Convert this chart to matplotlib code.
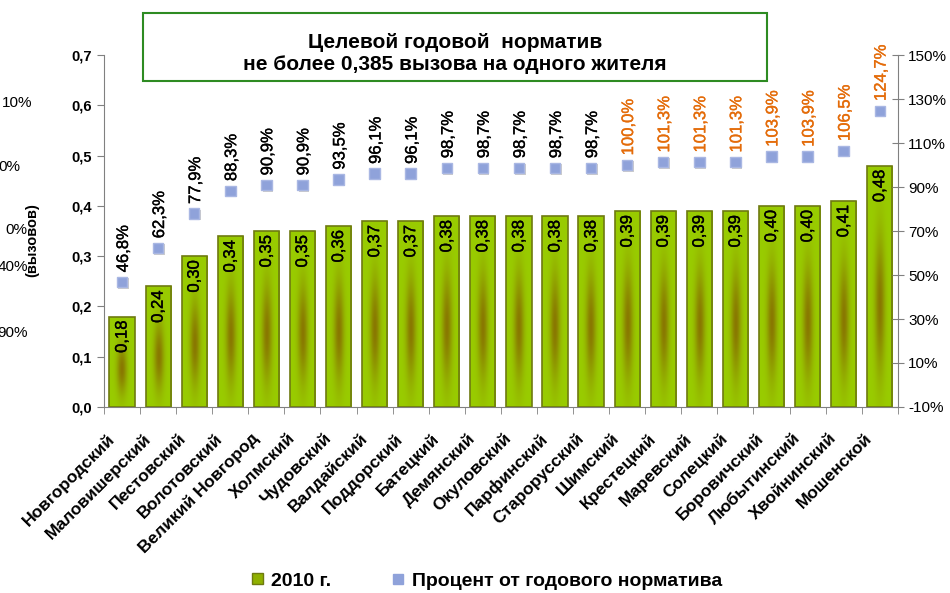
import numpy as np
import matplotlib
matplotlib.use("Agg")
import matplotlib.pyplot as plt
from matplotlib.patches import Rectangle
from matplotlib.transforms import ScaledTranslation
import matplotlib.patheffects as pe

plt.rcParams['font.family'] = ['Liberation Sans', 'DejaVu Sans']

districts = ["Новгородский", "Маловишерский", "Пестовский", "Волотовский",
             "Великий Новгород", "Холмский", "Чудовский", "Валдайский",
             "Поддорский", "Батецкий", "Демянский", "Окуловский", "Парфинский",
             "Старорусский", "Шимский", "Крестецкий", "Маревский", "Солецкий",
             "Боровичский", "Любытинский", "Хвойнинский", "Мошенской"]
calls_2010 = [0.18, 0.24, 0.30, 0.34, 0.35, 0.35, 0.36, 0.37, 0.37, 0.38, 0.38,
              0.38, 0.38, 0.38, 0.39, 0.39, 0.39, 0.39, 0.40, 0.40, 0.41, 0.48]
pct_of_norm = [46.8, 62.3, 77.9, 88.3, 90.9, 90.9, 93.5, 96.1, 96.1, 98.7, 98.7,
               98.7, 98.7, 98.7, 100.0, 101.3, 101.3, 101.3, 103.9, 103.9, 106.5, 124.7]
left_ticks = [0.0, 0.1, 0.2, 0.3, 0.4, 0.5, 0.6, 0.7]
right_ticks = [-10, 10, 30, 50, 70, 90, 110, 130, 150]

green = np.array([153, 204, 0]) / 255
dark = np.array([135, 110, 0]) / 255
orange = '#E46C0A'
blue = '#8FA2DA'

fig = plt.figure(figsize=(9.5, 5.93), dpi=100)
ax = fig.add_axes([0.1095, 0.3137, 0.8355, 0.5933])
ax2 = ax.twinx()
ax.set_zorder(ax2.get_zorder() - 1)
ax2.patch.set_visible(False)

# gradient for bars
gx = np.linspace(0, 1, 40)
gy = np.linspace(0, 1, 80)
X, Y = np.meshgrid(gx, gy)
t = 0.9 * np.exp(-((X - 0.5) / 0.2) ** 2) * np.exp(-((Y - 0.42) / 0.28) ** 2)
img = green[None, None, :] * (1 - t[..., None]) + dark[None, None, :] * t[..., None]

x = np.arange(len(districts))
bars = ax.bar(x, calls_2010, width=0.7, color='none', edgecolor='#6E7A10', linewidth=1.2, zorder=3)
for b, v in zip(bars, calls_2010):
    x0 = b.get_x()
    im = ax.imshow(img, extent=(x0, x0 + b.get_width(), 0, v), origin='lower',
                   aspect='auto', zorder=2, interpolation='bilinear')
    im.set_clip_path(b)
    ax.annotate(f"{v:.2f}".replace('.', ','), (b.get_x() + b.get_width() / 2, v),
                xytext=(0, -3), textcoords='offset points', rotation=90,
                ha='center', va='top', fontsize=12, color='black', zorder=4,
                path_effects=[pe.withStroke(linewidth=0.25, foreground='black')])

ax.set_xlim(-0.5, len(districts) - 0.5)
ax.set_ylim(0, 0.7)
ax.set_yticks(left_ticks)
ax.set_yticklabels([f"{v:.1f}".replace('.', ',') for v in left_ticks],
                   fontsize=10.5, fontweight='bold')
ax.set_xticks(x)
ax.set_xticklabels(districts, rotation=45, ha='right', va='top', rotation_mode='anchor',
                   fontsize=12.5, fontweight='bold')
ax.tick_params(axis='x', which='major', length=0, pad=17)
for lbl in ax.get_xticklabels():
    lbl.set_transform(lbl.get_transform() + ScaledTranslation(-11 / 72, 0, fig.dpi_scale_trans))
ax.set_xticks(np.arange(-0.5, len(districts), 1), minor=True)
ax.tick_params(axis='x', which='minor', length=5, color='#808080')
ax.tick_params(axis='y', length=5, color='#808080')
for s in ['top', 'right']:
    ax.spines[s].set_visible(False)
ax.spines['left'].set_color('#808080')
ax.spines['bottom'].set_color('#808080')

ax2.plot(x, pct_of_norm, linestyle='none', marker='s', markersize=7.5,
         color=blue, markeredgecolor='#A9B7E3', zorder=5,
         path_effects=[pe.SimplePatchShadow(offset=(1, -1), shadow_rgbFace='#9A9A9A', alpha=0.5),
                       pe.Normal()])
for xi, p in zip(x, pct_of_norm):
    c = orange if p >= 100 else 'black'
    ax2.annotate(f"{p:.1f}%".replace('.', ','), (xi, p), xytext=(1, 7),
                 textcoords='offset points', rotation=90, ha='center', va='bottom',
                 fontsize=12, color=c,
                 path_effects=[pe.withStroke(linewidth=0.25, foreground=c)])
ax2.set_ylim(-10, 150)
ax2.set_yticks(right_ticks)
ax2.set_yticklabels([f"{v}%" for v in right_ticks], fontsize=11)
ax2.tick_params(axis='y', direction='inout', length=8, color='#808080')
for s in ['top', 'left', 'bottom']:
    ax2.spines[s].set_visible(False)
ax2.spines['right'].set_color('#808080')

# title box
fig.patches.append(Rectangle((143 / 950, 1 - 81 / 593), 624 / 950, 68 / 593,
                             transform=fig.transFigure, facecolor='white',
                             edgecolor='#2E8B22', linewidth=1.5, zorder=10))
fig.text(455 / 950, 1 - 54 / 593, "Целевой годовой  норматив\nне более 0,385 вызова на одного жителя",
         ha='center', va='center', fontsize=15, fontweight='bold', linespacing=1.2,
         zorder=11)

# leftover texts on the left edge
for yy, s, xr in [(103, "10%", 32), (167, "0%", 20), (230, "0%", 27), (267, "40%", 28), (333, "90%", 28)]:
    fig.text(xr / 950, 1 - yy / 593, s, ha='right', va='center', fontsize=11)
fig.text(32 / 950, 1 - 240 / 593, "(вызовов)", rotation=90, ha='center', va='center',
         fontsize=10.5, fontweight='bold')

# legend
h1 = Rectangle((0, 0), 1, 1, facecolor='#8FB000', edgecolor='#6E7A10')
h2 = plt.Line2D([], [], linestyle='none', marker='s', markersize=7.5, color=blue)
fig.legend([h1, h2], ["2010 г.", "Процент от годового норматива"], loc='center',
           bbox_to_anchor=(487 / 950, 1 - 581 / 593), ncol=2, frameon=False,
           prop={'size': 14, 'weight': 'bold'}, handlelength=0.55, handleheight=0.55,
           columnspacing=3.2, handletextpad=0.4)

fig.savefig("out.png", dpi=100)
